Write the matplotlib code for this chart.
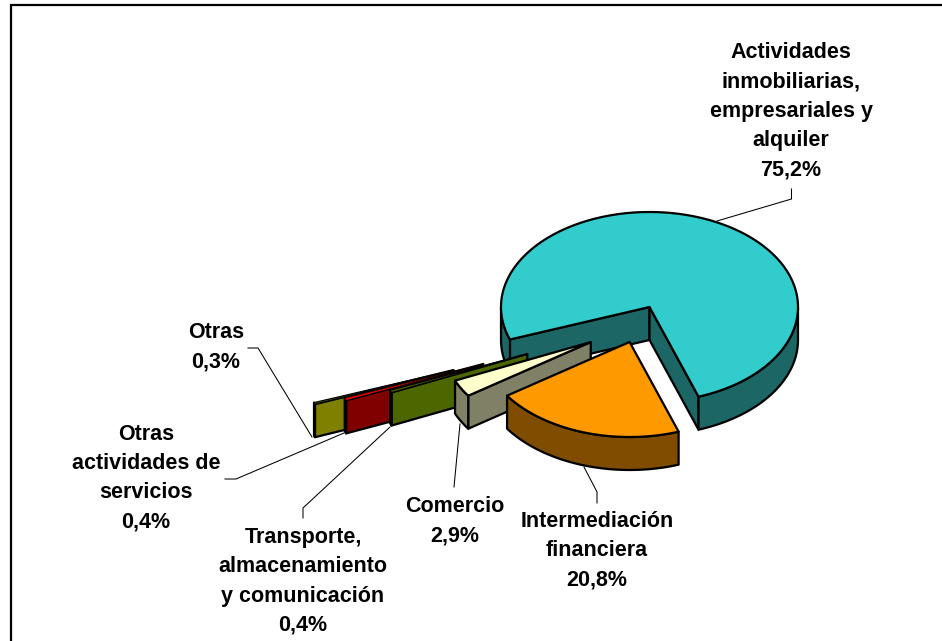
import numpy as np
import matplotlib
import matplotlib.pyplot as plt
from matplotlib.patches import Polygon
matplotlib.use('Agg')

plt.rcParams['font.family'] = ['Liberation Sans', 'DejaVu Sans']

labels = ["Actividades\ninmobiliarias,\nempresariales y\nalquiler",
          "Intermediación\nfinanciera",
          "Comercio",
          "Transporte,\nalmacenamiento\ny comunicación",
          "Otras\nactividades de\nservicios",
          "Otras"]
shares = [75.2, 20.8, 2.9, 0.4, 0.4, 0.3]

# slice styles
top_colors = ["#33CCCC", "#FF9900", "#FFFFCC", "#4C6600", "#FF0000", "#4C6600"]
side_colors = ["#1C6666", "#804C00", "#808066", "#4C6600", "#800000", "#808000"]
top_edges = [1.6, 1.6, 1.6, 0.8, 0.5, 0.8]

# explosion of each slice, in pie radii and degrees
explode_dist = [0, 0.392, 0.541, 0.96, 1.27, 1.477]
explode_dir = [0, -110, -137, -149, -151.8, -153.3]
draw_order = [0, 5, 4, 3, 2, 1]

# pie layout in pixels
CX, CY = 649.5, 307
RX, RY = 148.5, 95
DEPTH = 33
START = 200
EDGE = 1.6

# label layout in pixels: center x, center y
label_pos = [(791, 111), (597, 551), (455, 521), (303, 581.5), (146, 478), (216, 347.5)]
leaders = [[(791.5, 189), (791.5, 199), (717, 221)],
           [(597, 503), (597, 492), (584, 467)],
           [(454, 487), (460, 424)],
           [(303, 518), (303, 508), (390, 427)],
           [(225, 479), (236, 479), (344, 433)],
           [(248, 348), (258, 348), (312, 437)]]

fig = plt.figure(figsize=(9.42, 6.41), dpi=100)
ax = fig.add_axes([0, 0, 1, 1])
ax.set_xlim(0, 942)
ax.set_ylim(641, 0)
ax.axis('off')

# frame: only the top and left sides show
ax.plot([942, 11, 11], [5, 5, 641], color='black', lw=1.6, solid_joinstyle='miter', zorder=1)


def point(cx, cy, angle):
    rad = np.radians(angle)
    return cx + RX * np.cos(rad), cy - RY * np.sin(rad)


def add_poly(pts, color, z, lw=EDGE):
    ax.add_patch(Polygon(pts, closed=True, facecolor=color, edgecolor='black',
                         lw=lw, joinstyle='round', zorder=z))


def draw_slice(i, z):
    ends = START - np.cumsum([0] + shares) * 3.6
    t0, t1 = ends[i], ends[i + 1]
    rad = np.radians(explode_dir[i])
    cx = CX + explode_dist[i] * RX * np.cos(rad)
    cy = CY - explode_dist[i] * RY * np.sin(rad)
    c = np.array([cx, cy])
    down = np.array([0, DEPTH])

    # cut faces that look towards the viewer
    for edge, normal in [(t0, t0 + 90), (t1, t1 - 90)]:
        if np.sin(np.radians(normal)) < 0:
            p = np.array(point(cx, cy, edge))
            add_poly([c, p, p + down, c + down], side_colors[i], z)

    # outer wall, front part of the arc only
    ts = np.linspace(t0, t1, 240)
    front = np.sin(np.radians(ts)) < 0
    runs = np.split(ts[front], np.where(np.diff(np.where(front)[0]) > 1)[0] + 1)
    for run in runs:
        if len(run) < 2:
            continue
        xs, ys = point(cx, cy, run)
        upper = np.column_stack([xs, ys])
        lower = upper[::-1] + down
        add_poly(np.vstack([upper, lower]), side_colors[i], z)

    xs, ys = point(cx, cy, ts)
    add_poly(np.vstack([c, np.column_stack([xs, ys])]), top_colors[i], z, top_edges[i])


for n, i in enumerate(draw_order):
    draw_slice(i, 3 + n)

for line in leaders:
    xs, ys = zip(*line)
    ax.plot(xs, ys, color='black', lw=0.75, zorder=2)

for name, share, (x, y) in zip(labels, shares, label_pos):
    text = name + "\n" + f"{share:.1f}".replace(".", ",") + "%"
    ax.text(x, y, text, ha='center', va='center', fontsize=15.5, fontweight='bold',
            linespacing=1.52, color='black', zorder=20)

plt.savefig('out.png', dpi=100)
plt.close('all')
